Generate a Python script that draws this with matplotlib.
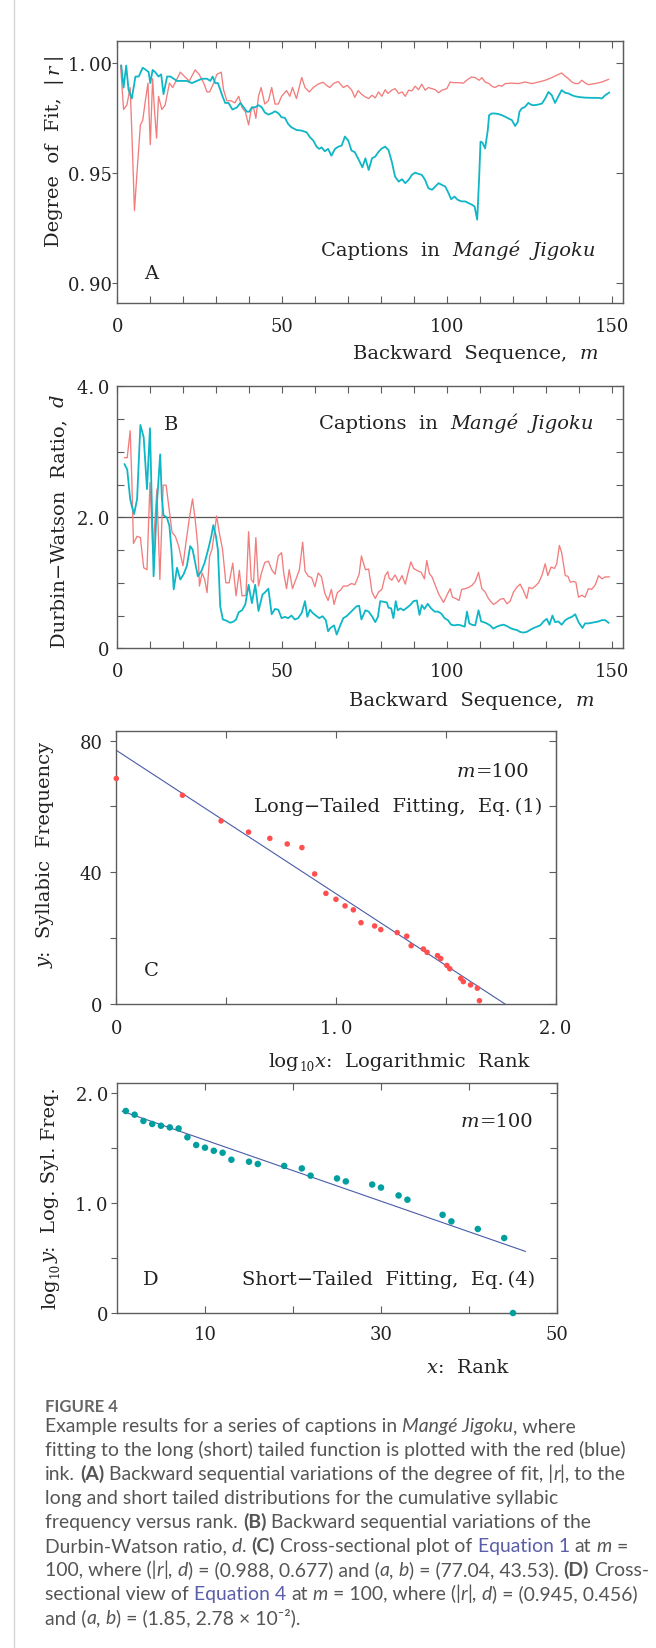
import numpy as np
import matplotlib.pyplot as plt
from matplotlib.lines import Line2D
from matplotlib.transforms import IdentityTransform

# ---- A: degree of fit |r| against backward sequence m ----
a_long_m = [1.0, 1.9, 2.9, 3.9, 4.4, 5.2, 6.0, 7.0, 7.7, 8.5,
            9.3, 10.0, 10.7, 11.3, 11.9, 12.5, 13.5, 14.5, 15.8, 16.8,
            17.8, 19.1, 20.4, 21.8, 23.6, 24.8, 26.2, 27.2, 28.0, 29.2,
            30.2, 31.5, 32.2, 33.2, 34.5, 35.6, 36.8, 37.8, 38.8, 39.8,
            40.6, 41.3, 42.0, 42.8, 43.6, 44.7, 45.8, 46.8, 47.8, 48.8,
            49.8, 51.3, 52.3, 53.1, 54.3, 55.9, 56.9, 58.2, 59.4, 60.9,
            62.4, 63.4, 64.4, 65.7, 67.0, 68.5, 69.7, 71.0, 72.0, 73.0,
            74.0, 75.2, 76.2, 77.2, 78.2, 79.2, 80.2, 81.2, 82.0, 83.2,
            84.2, 85.3, 86.3, 87.3, 88.3, 89.3, 90.3, 91.3, 92.3, 93.3,
            94.3, 95.4, 96.4, 97.4, 98.4, 99.9, 100.9, 101.9, 103.4, 104.9,
            105.9, 107.3, 108.5, 109.7, 110.5, 111.5, 112.7, 113.5, 114.5, 115.6,
            116.6, 117.6, 119.6, 121.6, 123.6, 125.7, 127.7, 129.7, 131.7, 133.2,
            134.7, 135.8, 136.8, 137.8, 138.8, 139.8, 140.8, 141.8, 142.8, 144.8,
            146.9, 148.9]
a_long_r = [0.999, 0.979, 0.981, 0.989, 0.969, 0.933, 0.951, 0.972, 0.974, 0.983,
            0.991, 0.963, 0.993, 0.978, 0.966, 0.985, 0.979, 0.981, 0.991, 0.989,
            0.992, 0.996, 0.994, 0.992, 0.997, 0.995, 0.991, 0.987, 0.987, 0.991,
            0.995, 0.996, 0.988, 0.983, 0.983, 0.982, 0.985, 0.980, 0.978, 0.972,
            0.979, 0.980, 0.975, 0.985, 0.989, 0.9815, 0.983, 0.989, 0.9815, 0.9815,
            0.985, 0.9876, 0.985, 0.989, 0.984, 0.9936, 0.989, 0.987, 0.989, 0.9906,
            0.9914, 0.990, 0.989, 0.991, 0.9917, 0.989, 0.990, 0.988, 0.9845, 0.9876,
            0.986, 0.9847, 0.984, 0.9855, 0.9843, 0.987, 0.985, 0.988, 0.9863, 0.9878,
            0.9885, 0.9863, 0.987, 0.985, 0.9878, 0.9875, 0.9896, 0.988, 0.9905, 0.9878,
            0.989, 0.9885, 0.988, 0.9866, 0.9878, 0.9885, 0.9915, 0.9912, 0.9912, 0.991,
            0.9923, 0.9938, 0.9935, 0.9923, 0.9935, 0.9915, 0.9908, 0.9896, 0.989, 0.990,
            0.9896, 0.9908, 0.991, 0.9908, 0.9915, 0.9908, 0.9915, 0.9923, 0.9935, 0.9946,
            0.9956, 0.9941, 0.993, 0.9915, 0.9908, 0.9908, 0.9923, 0.9911, 0.9903, 0.9908,
            0.9915, 0.9927]
a_short_m = [1.2, 1.9, 2.7, 3.4, 4.4, 5.5, 6.5, 7.7, 8.7, 9.5,
             10.0, 10.7, 11.5, 12.5, 13.3, 14.0, 15.1, 16.1, 17.1, 18.1,
             19.6, 21.1, 22.6, 24.1, 25.7, 27.2, 28.2, 28.9, 29.7, 30.5,
             31.2, 31.9, 32.7, 33.7, 34.9, 36.3, 37.3, 38.3, 39.3, 40.0,
             40.8, 41.8, 42.8, 43.8, 44.7, 45.8, 46.8, 47.8, 48.8, 49.8,
             50.8, 51.8, 52.8, 54.3, 55.9, 57.4, 58.4, 59.4, 60.4, 61.2,
             61.9, 62.9, 63.9, 64.9, 66.0, 67.0, 68.0, 69.0, 70.0, 71.0,
             72.0, 73.3, 74.3, 75.2, 76.2, 77.2, 78.2, 79.2, 80.2, 81.2,
             82.2, 83.2, 84.2, 85.3, 86.3, 87.3, 88.3, 89.3, 90.3, 91.3,
             92.3, 93.3, 94.3, 95.4, 96.4, 97.4, 98.4, 99.4, 100.4, 101.2,
             102.2, 103.2, 104.4, 105.5, 106.5, 107.5, 108.3, 109.1, 109.7, 110.1,
             110.7, 111.5, 112.3, 112.7, 113.5, 114.5, 115.6, 116.6, 117.6, 118.6,
             119.6, 120.6, 121.4, 121.9, 122.6, 123.6, 124.6, 125.7, 126.7, 127.7,
             128.7, 129.7, 130.7, 131.7, 132.7, 133.7, 134.7, 135.8, 136.8, 137.8,
             138.8, 139.8, 141.8, 143.8, 145.9, 146.9, 147.9, 149.1]
a_short_r = [0.999, 0.989, 0.999, 0.988, 0.984, 0.994, 0.994, 0.998, 0.997, 0.996,
             0.991, 0.997, 0.996, 0.994, 0.995, 0.986, 0.994, 0.994, 0.993, 0.992,
             0.992, 0.992, 0.991, 0.992, 0.993, 0.993, 0.992, 0.994, 0.991, 0.991,
             0.988, 0.985, 0.982, 0.982, 0.979, 0.980, 0.982, 0.980, 0.978, 0.978,
             0.980, 0.980, 0.981, 0.980, 0.9777, 0.9767, 0.9773, 0.9782, 0.9773, 0.9755,
             0.9752, 0.9724, 0.9709, 0.9697, 0.9694, 0.9686, 0.9664, 0.9649, 0.9621, 0.9611,
             0.9618, 0.960, 0.9611, 0.958, 0.9611, 0.9621, 0.9626, 0.9667, 0.9649, 0.9603,
             0.9596, 0.9558, 0.9527, 0.9568, 0.9515, 0.9568, 0.9576, 0.9598, 0.9613, 0.9621,
             0.9606, 0.9553, 0.9485, 0.9462, 0.9473, 0.9455, 0.947, 0.9493, 0.9503, 0.9497,
             0.9493, 0.947, 0.9432, 0.9425, 0.944, 0.9455, 0.9447, 0.944, 0.941, 0.9382,
             0.9394, 0.9379, 0.9372, 0.9372, 0.9364, 0.9357, 0.9349, 0.9289, 0.9485, 0.9644,
             0.9639, 0.9613, 0.9696, 0.9764, 0.9772, 0.9772, 0.9769, 0.9764, 0.9757, 0.9749,
             0.9742, 0.9715, 0.9734, 0.978, 0.9795, 0.9802, 0.982, 0.981, 0.981, 0.9813,
             0.9817, 0.984, 0.987, 0.9855, 0.982, 0.985, 0.9878, 0.9866, 0.9863, 0.9855,
             0.985, 0.9847, 0.9844, 0.9843, 0.9843, 0.984, 0.9855, 0.9867]

# ---- B: Durbin-Watson ratio d against backward sequence m ----
b_long_m = [2.2, 3.0, 3.9, 4.4, 4.9, 6.0, 7.0, 8.0, 9.0, 9.9,
            10.8, 12.0, 12.9, 13.9, 14.8, 15.6, 16.6, 17.6, 18.6, 19.9,
            20.8, 21.8, 22.8, 23.6, 24.4, 24.9, 25.7, 26.5, 27.2, 28.0,
            28.7, 29.5, 30.1, 30.9, 31.9, 32.9, 33.9, 35.0, 36.0, 37.0,
            37.8, 39.0, 39.8, 40.6, 41.3, 42.0, 42.8, 43.7, 44.7, 45.8,
            46.8, 47.8, 48.8, 49.8, 50.5, 51.3, 52.1, 53.1, 54.1, 55.2,
            56.2, 56.9, 57.9, 58.9, 59.9, 60.9, 61.9, 62.9, 63.9, 64.9,
            65.7, 66.7, 67.7, 68.5, 69.7, 71.0, 72.0, 73.3, 74.0, 75.2,
            76.2, 77.2, 78.2, 79.2, 80.2, 81.2, 82.0, 82.4, 83.2, 84.2,
            85.3, 86.3, 87.3, 88.3, 89.0, 89.8, 90.8, 92.1, 93.1, 93.8,
            94.6, 95.4, 96.4, 97.4, 98.9, 99.9, 100.9, 101.6, 102.6, 103.6,
            104.4, 105.5, 106.5, 107.5, 108.5, 109.5, 110.5, 111.5, 112.5, 113.3,
            114.0, 115.0, 116.1, 117.1, 118.1, 119.1, 120.1, 121.1, 122.1, 123.1,
            124.1, 124.8, 125.7, 126.7, 127.7, 128.7, 129.7, 130.5, 131.5, 132.5,
            133.2, 134.0, 134.7, 135.8, 136.6, 137.3, 138.3, 139.0, 139.8, 140.8,
            141.8, 142.8, 143.8, 144.9, 145.9, 146.9, 147.9, 149.1]
b_long_d = [2.91, 2.91, 3.32, 2.58, 1.60, 1.71, 1.69, 1.23, 1.20, 2.53,
            1.45, 2.43, 1.05, 2.49, 2.49, 2.17, 1.77, 1.71, 1.56, 1.26,
            1.61, 1.97, 2.28, 1.97, 1.56, 0.95, 1.15, 1.05, 0.85, 1.41,
            1.51, 1.79, 2.02, 1.77, 1.51, 1.00, 1.00, 1.30, 0.80, 1.19,
            0.80, 0.81, 1.78, 1.05, 1.00, 1.69, 0.95, 1.15, 1.31, 1.33,
            1.20, 1.13, 1.41, 1.46, 1.13, 0.91, 1.20, 0.91, 1.05, 1.20,
            1.62, 1.18, 1.10, 1.08, 0.94, 1.15, 1.09, 0.84, 0.73, 0.90,
            0.67, 0.85, 0.89, 0.95, 0.95, 0.99, 0.97, 1.13, 1.41, 1.20,
            1.21, 0.86, 0.76, 0.86, 0.90, 1.11, 1.17, 1.07, 1.04, 1.12,
            1.01, 1.11, 0.98, 1.19, 1.32, 1.22, 1.19, 1.16, 1.06, 1.34,
            1.14, 1.09, 0.96, 0.83, 0.70, 0.81, 0.91, 0.78, 0.76, 0.73,
            0.90, 0.91, 0.93, 0.96, 1.02, 1.16, 0.91, 0.86, 0.76, 0.71,
            0.67, 0.70, 0.75, 0.76, 0.68, 0.72, 0.86, 0.93, 0.98, 0.88,
            0.76, 0.93, 0.91, 0.95, 1.00, 1.11, 1.29, 1.11, 1.24, 1.22,
            1.29, 1.57, 1.46, 1.11, 1.10, 1.01, 1.02, 1.01, 0.78, 0.81,
            0.78, 0.91, 0.90, 0.97, 1.11, 1.06, 1.09, 1.09]
b_short_m = [2.2, 3.0, 3.9, 4.4, 5.1, 6.0, 7.0, 8.0, 9.0, 9.9,
             11.0, 12.0, 13.0, 13.5, 14.0, 15.0, 15.8, 16.4, 17.1, 18.1,
             19.1, 20.1, 21.1, 22.1, 22.8, 23.6, 24.4, 25.5, 26.5, 27.7,
             28.5, 29.1, 29.9, 30.5, 31.2, 32.0, 33.2, 34.2, 35.3, 36.0,
             36.8, 37.8, 38.8, 39.8, 40.8, 41.8, 42.8, 44.0, 44.7, 45.8,
             46.8, 47.8, 48.8, 49.8, 50.8, 51.8, 52.8, 53.8, 54.8, 55.9,
             56.9, 57.6, 58.4, 59.2, 60.2, 61.2, 62.2, 63.2, 63.9, 64.6,
             65.7, 66.5, 67.5, 68.5, 69.5, 70.5, 71.5, 72.5, 73.3, 74.0,
             75.2, 76.2, 77.2, 78.2, 79.0, 79.7, 80.7, 81.7, 82.2, 83.0,
             83.7, 84.4, 85.0, 85.8, 86.8, 87.8, 88.8, 89.8, 90.8, 91.6,
             92.3, 93.1, 94.1, 95.1, 96.2, 97.2, 98.2, 99.2, 100.2, 101.2,
             102.2, 103.2, 104.2, 105.3, 106.0, 106.7, 107.5, 108.5, 109.5, 110.3,
             111.0, 112.0, 113.0, 114.0, 115.0, 116.1, 117.1, 118.1, 119.1, 120.1,
             121.1, 122.1, 123.1, 124.1, 125.1, 126.2, 127.2, 128.2, 129.2, 130.2,
             131.0, 131.9, 132.7, 133.7, 134.7, 135.8, 136.8, 137.8, 138.8, 139.8,
             141.0, 141.8, 142.8, 143.8, 144.9, 145.9, 146.9, 147.9, 148.9]
b_short_d = [2.81, 2.73, 2.28, 2.17, 2.05, 2.28, 3.41, 3.22, 2.43, 3.36,
             1.10, 2.20, 2.96, 2.30, 2.03, 2.00, 1.87, 1.51, 0.90, 1.23,
             1.05, 1.13, 1.26, 1.56, 1.51, 1.31, 1.10, 1.18, 1.31, 1.54,
             1.71, 1.88, 1.71, 1.50, 0.64, 0.44, 0.42, 0.39, 0.41, 0.44,
             0.55, 0.58, 0.67, 0.97, 0.69, 0.97, 0.57, 0.82, 0.85, 0.91,
             0.52, 0.60, 0.59, 0.46, 0.48, 0.46, 0.50, 0.44, 0.46, 0.54,
             0.72, 0.48, 0.59, 0.54, 0.50, 0.46, 0.49, 0.43, 0.26, 0.31,
             0.35, 0.21, 0.34, 0.46, 0.49, 0.54, 0.59, 0.64, 0.65, 0.44,
             0.58, 0.56, 0.49, 0.40, 0.48, 0.72, 0.71, 0.70, 0.62, 0.61,
             0.46, 0.72, 0.58, 0.61, 0.58, 0.62, 0.66, 0.72, 0.73, 0.51,
             0.66, 0.60, 0.68, 0.61, 0.56, 0.56, 0.53, 0.46, 0.43, 0.36,
             0.35, 0.36, 0.35, 0.33, 0.56, 0.38, 0.36, 0.35, 0.58, 0.41,
             0.40, 0.38, 0.35, 0.30, 0.33, 0.35, 0.36, 0.34, 0.31, 0.29,
             0.28, 0.25, 0.24, 0.25, 0.28, 0.31, 0.33, 0.35, 0.41, 0.45,
             0.36, 0.50, 0.40, 0.41, 0.36, 0.43, 0.46, 0.48, 0.52, 0.40,
             0.31, 0.38, 0.38, 0.39, 0.40, 0.41, 0.43, 0.43, 0.39]

# ---- C, D: cross sections at m = 100 ----
ranks = [1, 2, 3, 4, 5, 6, 7, 8, 9, 10, 11, 12, 13, 15, 16, 19, 21, 22, 25, 26,
         29, 30, 32, 33, 37, 38, 41, 44, 45]
freqs = [68.5, 63.4, 55.6, 52.2, 50.3, 48.6, 47.5, 39.5, 33.6, 31.8, 29.8, 28.6,
         24.7, 23.7, 22.6, 21.7, 20.6, 17.7, 16.7, 15.7, 14.7, 13.8, 11.7, 10.7,
         7.8, 6.8, 5.8, 4.8, 1.0]
long_ab = (77.04, 43.53)     # y = a - b log10 x
short_ab = (1.85, 2.78e-2)   # log10 y = a - b x

RED = '#f27d7d'
CYAN = '#0fb6c6'
DOT_RED = '#ff4f4f'
DOT_TEAL = '#009f9f'
FIT = '#4a5ba8'
FRAME = '#5c5c5c'
INK = '#222222'

W, H = 656, 1649
plt.rcParams['font.family'] = 'DejaVu Serif'
plt.rcParams['font.size'] = 13
fig = plt.figure(figsize=(W / 100, H / 100), dpi=100)
fig.patch.set_facecolor('white')
renderer = fig.canvas.get_renderer()
ID = IdentityTransform()


def box(left, top, right, bottom):
    return [left / W, 1 - bottom / H, (right - left) / W, (bottom - top) / H]


def _width(s, **kw):
    t = fig.text(0, 0, s, transform=ID, **kw)
    w = t.get_window_extent(renderer).width
    t.remove()
    return w


def runs_text(x, y, runs, size, family='DejaVu Serif', color=INK,
              align='left', rotate=False, link='#5a5ea8'):
    """Place differently styled pieces along one baseline (y counted from top)."""
    base = dict(fontsize=size, family=family, color=color)
    gap = _width('n n', **base) - _width('nn', **base)
    pieces, pos = [], 0.0
    for s, st in runs:
        kw = dict(base)
        shift = 0.0
        if 'i' in st:
            kw['style'] = 'italic'
        if 'b' in st:
            kw['weight'] = 'bold'
        if 'l' in st:
            kw['color'] = link
        if 's' in st:
            kw['fontsize'] = size * 0.62
            shift = size * 100 / 72 * 0.2
        core = s.strip(' ')
        pos += (len(s) - len(s.lstrip(' '))) * gap
        if core:
            pieces.append((pos, core, kw, shift))
            pos += _width(core, **kw)
        pos += (len(s) - len(s.rstrip(' '))) * gap
    start = {'left': 0.0, 'right': -pos, 'center': -pos / 2}[align]
    for off, core, kw, shift in pieces:
        if rotate:
            fig.text(x + shift, H - y + start + off, core, rotation=90,
                     rotation_mode='anchor', ha='left', va='baseline',
                     transform=ID, **kw)
        else:
            fig.text(x + start + off, H - y - shift, core, ha='left',
                     va='baseline', transform=ID, **kw)


def style_axes(ax, xt, xl, xminor, yt, yl, yminor, ydir, ylen, ypad, xpad=10):
    for sp in ax.spines.values():
        sp.set_color(FRAME)
        sp.set_linewidth(1.0)
    ax.set_xticks(xt, xl)
    ax.set_xticks(xminor, minor=True)
    ax.set_yticks(yt, yl)
    ax.set_yticks(yminor, minor=True)
    ax.tick_params(axis='x', which='both', direction='in', top=True, bottom=True,
                   length=4.7, width=0.8, color=FRAME, labelcolor=INK,
                   labelsize=13, pad=xpad)
    ax.tick_params(axis='y', which='both', direction=ydir, left=True, right=False,
                   length=ylen, width=0.8, color=FRAME, labelcolor=INK,
                   labelsize=13, pad=ypad)
    sec = ax.secondary_yaxis('right')
    sec.set_yticks(sorted(list(yt) + list(yminor)))
    sec.tick_params(direction='in', length=4.7, width=0.8, color=FRAME,
                    labelright=False)
    sec.spines['right'].set_color(FRAME)


# left page rule
fig.add_artist(Line2D([14 / W, 14 / W], [0, 1], color='#d6d6d6', lw=1.0))

# ---- panel A ----
axA = fig.add_axes(box(117.3, 41.7, 622.7, 304))
axA.plot(a_long_m, a_long_r, color=RED, lw=0.95)
axA.plot(a_short_m, a_short_r, color=CYAN, lw=1.3)
axA.set_xlim(0, 153.2)
axA.set_ylim(0.891, 1.0103)
style_axes(axA, [0, 50, 100, 150], ['0', '50', '100', '150'], np.arange(10, 150, 10),
           [0.90, 0.95, 1.00], ['0.\u200990', '0.\u200995', '1.\u200900'], [],
           'out', 3.6, 0.5)
runs_text(59, 150.5, [('Degree  of  Fit,  |\u2009', ''), ('r', 'i'), ('\u2009|', '')], 14,
          align='center', rotate=True)
runs_text(598, 359, [('Backward  Sequence,  ', ''), ('m', 'i')], 14, align='right')
runs_text(596, 256, [('Captions  in  ', ''), ('Mangé  Jigoku', 'i')], 14, align='right')
runs_text(151, 279, [('A', '')], 14, align='center')

# ---- panel B ----
axB = fig.add_axes(box(117.3, 387.3, 622.7, 649.3))
axB.axhline(2.0, color='#555555', lw=0.9)
axB.plot(b_long_m, b_long_d, color=RED, lw=0.95)
axB.plot(b_short_m, b_short_d, color=CYAN, lw=1.3)
axB.set_xlim(0, 153.2)
axB.set_ylim(0, 4.0)
style_axes(axB, [0, 50, 100, 150], ['0', '50', '100', '150'], np.arange(10, 150, 10),
           [0, 2, 4], ['0', '2.\u20090', '4.\u20090'], [0.5, 1, 1.5, 2.5, 3, 3.5],
           'in', 4.7, 6)
runs_text(64, 521, [('Durbin\u2212Watson  Ratio,  ', ''), ('d', 'i')], 14,
          align='center', rotate=True)
runs_text(594, 706.5, [('Backward  Sequence,  ', ''), ('m', 'i')], 14, align='right')
runs_text(594, 429, [('Captions  in  ', ''), ('Mangé  Jigoku', 'i')], 14, align='right')
runs_text(171, 430, [('B', '')], 14, align='center')

# ---- panel C: long-tailed fit ----
axC = fig.add_axes(box(116.3, 731.7, 555.6, 1005))
xc = np.array([0.0, long_ab[0] / long_ab[1]])
axC.plot(xc, long_ab[0] - long_ab[1] * xc, color=FIT, lw=0.8)
axC.scatter(np.log10(ranks), freqs, s=16, color=DOT_RED, edgecolors='none',
            zorder=3, clip_on=False)
axC.set_xlim(0, 2.0)
axC.set_ylim(0, 83)
style_axes(axC, [0, 1, 2], ['0', '1.\u20090', '2.\u20090'], [0.5, 1.5],
           [0, 40, 80], ['0', '40', '80'], [20, 60], 'out', 4.5, 5.5, xpad=10.5)
runs_text(50, 855, [('y', 'i'), (':  Syllabic  Frequency', '')], 14,
          align='center', rotate=True)
runs_text(529, 776.7, [('m', 'i'), ('=100', '')], 14, align='right')
runs_text(542, 811.7, [('Long\u2212Tailed  Fitting,  Eq.\u2009(1)', '')], 14, align='right')
runs_text(151, 976, [('C', '')], 14, align='center')
runs_text(529, 1067.3, [('log', ''), ('10', 's'), ('x', 'i'), (':  Logarithmic  Rank', '')],
          14, align='right')

# ---- panel D: short-tailed fit ----
axD = fig.add_axes(box(117, 1084, 557, 1314))
xd = np.array([0.6, 46.4])
axD.plot(xd, short_ab[0] - short_ab[1] * xd, color=FIT, lw=0.8)
axD.scatter(ranks, np.log10(freqs), s=22, color=DOT_TEAL, edgecolors='none',
            zorder=3, clip_on=False)
axD.set_xlim(0, 50)
axD.set_ylim(0, 2.09)
style_axes(axD, [10, 30, 50], ['10', '30', '50'], [20, 40],
           [0, 1, 2], ['0', '1.\u20090', '2.\u20090'], [0.5, 1.5], 'out', 4.5, 2, xpad=9)
runs_text(55, 1198, [('log', ''), ('10', 's'), ('y', 'i'), (':  Log. Syl. Freq.', '')], 14,
          align='center', rotate=True)
runs_text(533, 1126.7, [('m', 'i'), ('=100', '')], 14, align='right')
runs_text(535.5, 1285, [('Short\u2212Tailed  Fitting,  Eq.\u2009(4)', '')], 14, align='right')
runs_text(151, 1285, [('D', '')], 14, align='center')
runs_text(508, 1372.7, [('x', 'i'), (':  Rank', '')], 14, align='right')

# ---- figure caption ----
CAP_FONT = ['Lato', 'DejaVu Sans']
cap_lines = [
    [('Example results for a series of captions in ', ''), ('Mangé Jigoku', 'i'), (', where', '')],
    [('fitting to the long (short) tailed function is plotted with the red (blue)', '')],
    [('ink. ', ''), ('(A)', 'b'), (' Backward sequential variations of the degree of fit, |', ''),
     ('r', 'i'), ('|, to the', '')],
    [('long and short tailed distributions for the cumulative syllabic', '')],
    [('frequency versus rank. ', ''), ('(B)', 'b'), (' Backward sequential variations of the', '')],
    [('Durbin-Watson ratio, ', ''), ('d', 'i'), ('. ', ''), ('(C)', 'b'),
     (' Cross-sectional plot of ', ''), ('Equation 1', 'l'), (' at ', ''), ('m', 'i'), (' =', '')],
    [('100, where (|', ''), ('r', 'i'), ('|, ', ''), ('d', 'i'),
     (') = (0.988, 0.677) and (', ''), ('a', 'i'), (', ', ''), ('b', 'i'),
     (') = (77.04, 43.53). ', ''), ('(D)', 'b'), (' Cross-', '')],
    [('sectional view of ', ''), ('Equation 4', 'l'), (' at ', ''), ('m', 'i'),
     (' = 100, where (|', ''), ('r', 'i'), ('|, ', ''), ('d', 'i'), (') = (0.945, 0.456)', '')],
    [('and (', ''), ('a', 'i'), (', ', ''), ('b', 'i'), (') = (1.85, 2.78 \u00d7 10\u207b\u00b2).', '')],
]
cap_size = 12 * 578 / _width(cap_lines[1][0][0], fontsize=12, family=CAP_FONT)
runs_text(45, 1412.3, [('FIGURE 4', 'b')], cap_size * 0.86, family=CAP_FONT, color='#666666')
for i, line in enumerate(cap_lines):
    runs_text(45, 1432.3 + 24 * i, line, cap_size, family=CAP_FONT, color='#555555')

fig.savefig('out.png', dpi=100, facecolor='white')
